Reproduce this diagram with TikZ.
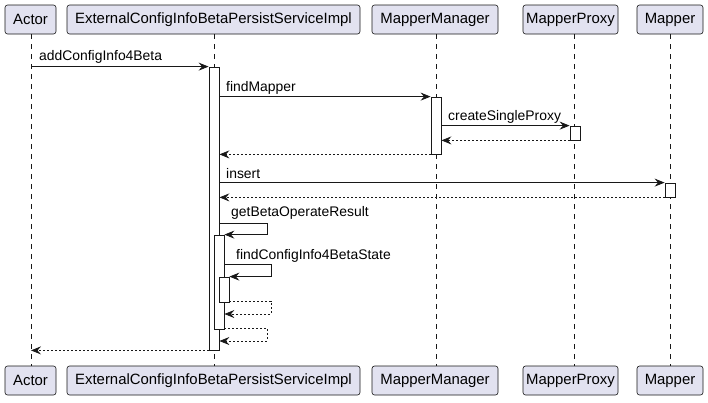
\documentclass[tikz,border=0pt]{standalone}
\usepackage{fontspec}
\setmainfont{Liberation Sans}
\usetikzlibrary{arrows.meta}
\definecolor{partfill}{HTML}{E2E2F0}
\definecolor{lineclr}{HTML}{181818}
\tikzset{
  part/.style={draw=lineclr, fill=partfill, rounded corners=2.5pt, line width=0.6pt,
    minimum height=29pt, inner sep=0pt, font=\fontsize{14.9}{16}\selectfont, text=black},
  life/.style={draw=lineclr, line width=0.5pt, dash pattern=on 5pt off 5pt},
  act/.style={draw=lineclr, fill=white, line width=0.8pt, minimum width=10pt, inner sep=0pt},
  msg/.style={draw=lineclr, line width=0.8pt, -{Stealth[length=10pt,width=8pt,inset=3.5pt]}},
  ret/.style={msg, dash pattern=on 2pt off 2pt},
  lbl/.style={font=\fontsize{13.9}{15}\selectfont, anchor=west, inner sep=0pt, text=black},
}
\begin{document}
\begin{tikzpicture}[x=1pt,y=-1pt]
\useasboundingbox[fill=white] (0,0) rectangle (708,402);
% participants top
\node[part, minimum width=51pt] (a) at (30.5,19.5) {Actor};
\node[part, minimum width=293pt] (e) at (213.5,19.5) {ExternalConfigInfoBetaPersistServiceImpl};
\node[part, minimum width=126pt] (mm) at (435,19.5) {MapperManager};
\node[part, minimum width=95pt] (mp) at (570.5,19.5) {MapperProxy};
\node[part, minimum width=66pt] (m) at (670,19.5) {Mapper};
% participants bottom
\node[part, minimum width=51pt] (a2) at (30.5,380.5) {Actor};
\node[part, minimum width=293pt] (e2) at (213.5,380.5) {ExternalConfigInfoBetaPersistServiceImpl};
\node[part, minimum width=126pt] (mm2) at (435,380.5) {MapperManager};
\node[part, minimum width=95pt] (mp2) at (570.5,380.5) {MapperProxy};
\node[part, minimum width=66pt] (m2) at (670,380.5) {Mapper};
% lifelines
\draw[life] ([xshift=0.5pt]a.south) -- ([xshift=0.5pt]a2.north);
\draw[life] ([xshift=0.5pt]e.south) -- ([xshift=0.5pt]e2.north);
\draw[life] ([xshift=1pt]mm.south) -- ([xshift=1pt]mm2.north);
\draw[life] ([xshift=3.5pt]mp.south) -- ([xshift=3.5pt]mp2.north);
\draw[life] (m.south) -- (m2.north);
% activations
\node[act, minimum height=283pt] (act1) at (214,208.5) {};
\node[act, minimum height=57pt] (act2) at (436,125.5) {};
\node[act, minimum height=14pt] (act3) at (575,133) {};
\node[act, minimum height=14pt] (act4) at (670,190) {};
\node[act, minimum height=94pt] (act5) at (219,282) {};
\node[act, minimum height=25pt] (act6) at (224,289.5) {};
% coordinates for self messages
\coordinate (s1) at (267,223);
\coordinate (s2) at (271,264);
\coordinate (r1) at (271,301);
\coordinate (r2) at (267,328);
% messages
\draw[msg] ([xshift=0.5pt]a.south |- act1.north west) -- (act1.north west);
\node[lbl] (l1) at (39,57) {addConfigInfo4Beta};
\draw[msg] (act1.east |- act2.north) -- (act2.north west);
\node[lbl] (l2) at (226,88) {findMapper};
\draw[msg] (act2.east |- act3.north) -- (act3.north west);
\node[lbl] (l3) at (448,117) {createSingleProxy};
\draw[ret] (act3.south west) -- (act2.east |- act3.south);
\draw[ret] (act2.south west) -- (act1.east |- act2.south);
\draw[msg] (act1.east |- act4.north) -- (act4.north west);
\node[lbl] (l4) at (226,174) {insert};
\draw[ret] (act4.south west) -- (act1.east |- act4.south);
\draw[msg] (act1.east |- s1) -- (s1) |- (act5.north east);
\node[lbl] (l5) at (231,213) {getBetaOperateResult};
\draw[msg] (act5.east |- s2) -- (s2) |- (act6.north east);
\node[lbl] (l6) at (236,256) {findConfigInfo4BetaState};
\draw[ret] (act6.east |- r1) -- (r1) -- ++(0,13) -- (act5.east |- 0,314);
\draw[ret] (act5.east |- r2) -- (r2) -- ++(0,13) -- (act1.east |- 0,341);
\draw[ret] (act1.south west) -- ([xshift=0.5pt]a.south |- act1.south);
\end{tikzpicture}
\end{document}
